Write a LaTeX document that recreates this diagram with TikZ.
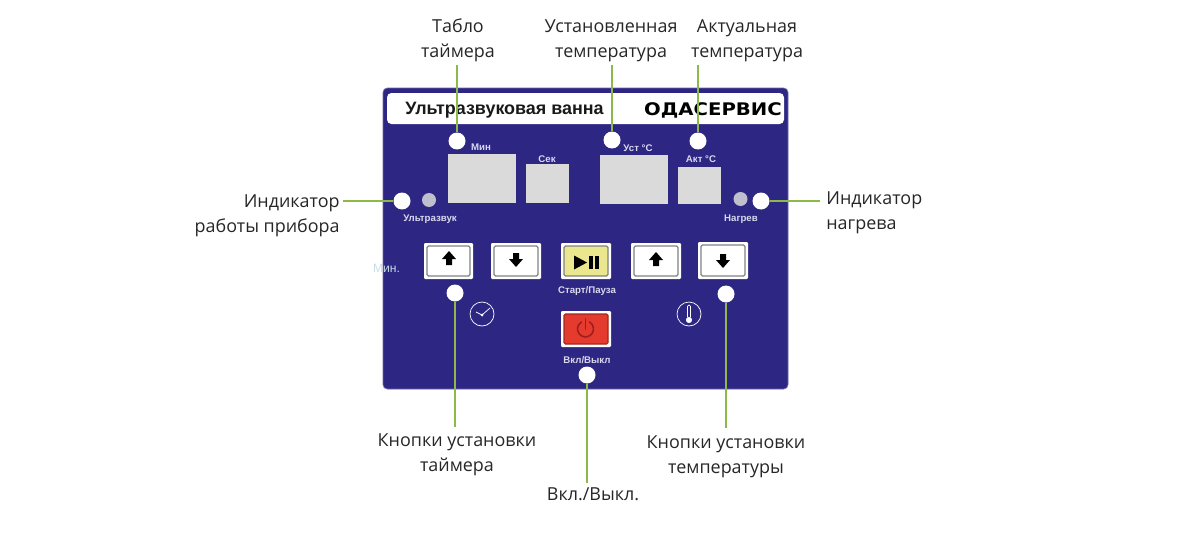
\documentclass[tikz,border=0pt]{standalone}
\usepackage{fontspec}
\setmainfont{Open Sans}
\newfontfamily\panelfont{Liberation Sans}
\newfontfamily\logofont{DejaVu Sans}

\definecolor{panelblue}{HTML}{2E2683}
\definecolor{leadgreen}{HTML}{8DB94A}
\definecolor{screengray}{HTML}{DADADA}
\definecolor{keygray}{HTML}{7F8284}
\definecolor{keyyellow}{HTML}{EBE78F}
\definecolor{keyred}{HTML}{E53A2E}
\definecolor{iconred}{HTML}{A01C1E}
\definecolor{smalltext}{HTML}{D9D8EE}
\definecolor{minblue}{HTML}{C9DCEA}

\tikzset{
	dot/.style={circle, fill=white, minimum size=0.34cm, inner sep=0pt},
	led/.style={circle, fill=screengray!85!panelblue, minimum size=0.28cm, inner sep=0pt},
	lead/.style={draw=leadgreen, line width=0.6pt},
	caption/.style={font=\fontsize{10.2}{14}\selectfont, text=black!85, inner sep=0pt},
	small/.style={font=\panelfont\bfseries\fontsize{5.5}{6}\selectfont, text=smalltext, inner sep=0pt},
	outer/.style={fill=white, rounded corners=0.6pt},
	inner/.style={draw=keygray, line width=0.7pt, rounded corners=0.8pt},
}

\begin{document}
\begin{tikzpicture}[x=0.02cm, y=-0.02cm]
	\useasboundingbox (0,0) rectangle (1200,534);

	\draw[fill=panelblue, draw=panelblue!70!white, line width=0.4pt, rounded corners=2.5pt] (383,88) rectangle (788,389);
	\fill[white, rounded corners=2.5pt] (387,93) rectangle (784,124);

	\node[font=\panelfont\bfseries\fontsize{10.2}{12}\selectfont, text=black!90, inner sep=0pt] (title) at (504.5,110) {Ультразвуковая ванна};
	\node[font=\logofont\bfseries\fontsize{9.4}{12}\selectfont, inner sep=0pt, text=black] (logo) at (713,110) {\scalebox{1.19}[1.05]{ОДАСЕРВИС}};

	\fill[screengray] (448,154) rectangle (516,203);
	\fill[screengray] (526,164) rectangle (569,203);
	\fill[screengray] (600,155) rectangle (668,204);
	\fill[screengray] (678,167) rectangle (721,204);

	\node[small] (minlabel) at (481,147) {Мин};
	\node[small] (seclabel) at (547,159) {Сек};
	\node[small] (setlabel) at (638,148) {Уст °С};
	\node[small] (actlabel) at (701,159) {Акт °С};
	\node[small] (usonic) at (430,219) {Ультразвук};
	\node[small] (heat) at (741,219) {Нагрев};
	\node[small] (startlabel) at (587,291) {Старт/Пауза};
	\node[small] (powerlabel) at (587,360) {Вкл/Выкл};
	\node[font=\panelfont\fontsize{6.9}{8}\selectfont, text=minblue, inner sep=0pt] (minkeys) at (386.5,268) {Мин.};

	\fill[outer] (424,243) rectangle (473,279);
	\fill[outer] (491,243) rectangle (541,279);
	\fill[outer] (561,243) rectangle (611,279);
	\fill[outer] (631,243) rectangle (681,279);
	\fill[outer] (698,242) rectangle (748,279);
	\fill[outer] (561,311) rectangle (611,347);
	\draw[inner] (427,246) rectangle (470,276);
	\draw[inner] (494,246) rectangle (538,276);
	\draw[inner, fill=keyyellow] (564,246) rectangle (608,276);
	\draw[inner] (634,246) rectangle (678,276);
	\draw[inner] (701,245) rectangle (745,276);
	\draw[inner, draw=keyred!70!black, fill=keyred] (564,314) rectangle (608,344);

	\fill[black] (449,251) -- (456,259) -- (452,259) -- (452,265) -- (446,265) -- (446,259) -- (442,259) -- cycle;
	\fill[black] (516,267) -- (509,259) -- (513,259) -- (513,253) -- (519,253) -- (519,259) -- (523,259) -- cycle;
	\fill[black] (656,252) -- (663,260) -- (659,260) -- (659,266) -- (653,266) -- (653,260) -- (649,260) -- cycle;
	\fill[black] (723,268) -- (716,260) -- (720,260) -- (720,254) -- (726,254) -- (726,260) -- (730,260) -- cycle;
	\fill[black] (574,255.5) -- (587,262.5) -- (574,269.5) -- cycle;
	\fill[black] (589,256) rectangle (592.5,269);
	\fill[black] (595,256) rectangle (598.5,269);

	\draw[iconred, line width=0.9pt, line cap=round] (589.5,322) arc (60:-240:0.16cm);
	\draw[iconred, line width=0.9pt, line cap=round] (585.5,319) -- (585.5,329);

	\draw[white, line width=0.4pt] (482,314) circle (0.24cm);
	\draw[white, line width=0.4pt] (476,312) -- (482,315) -- (490,308);
	\fill[white] (482,315) circle (0.03cm);
	\draw[white, line width=0.4pt] (689,314) circle (0.24cm);
	\draw[white, line width=0.4pt, rounded corners=0.8pt] (687.5,317) -- (687.5,305) -- (690.5,305) -- (690.5,317);
	\draw[white, fill=white, line width=0.3pt] (689,320) circle (0.055cm);

	\node[dot] (timerdot) at (457,141) {};
	\node[dot] (setdot) at (612,140) {};
	\node[dot] (actdot) at (698,141) {};
	\node[dot] (workdot) at (402,201) {};
	\node[led] (workled) at (429,200) {};
	\node[led] (heatled) at (740.5,199) {};
	\node[dot] (heatdot) at (761,201) {};
	\node[dot] (timekeys) at (455,293) {};
	\node[dot] (tempkeys) at (726,294) {};
	\node[dot] (powerdot) at (587,375) {};

	\node[caption, align=center] (timercap) at (458,40.5) {Табло\\таймера};
	\node[caption, align=center] (setcap) at (611,40.5) {Установленная\\температура};
	\node[caption, align=center] (actcap) at (747,40.5) {Актуальная\\температура};
	\node[caption, align=right, anchor=east] (workcap) at (340,216) {Индикатор\\работы прибора};
	\node[caption, align=left, anchor=west] (heatcap) at (826,213) {Индикатор\\нагрева};
	\node[caption, align=center] (timekeycap) at (457,455) {Кнопки установки\\таймера};
	\node[caption, align=center] (tempkeycap) at (726,457) {Кнопки установки\\температуры};
	\node[caption] (powercap) at (593,494) {Вкл./Выкл.};

	\coordinate (timerend) at (457,65);
	\coordinate (setend) at (612,65);
	\coordinate (actend) at (698,65);
	\coordinate (workend) at (343,201);
	\coordinate (heatend) at (820,201);
	\coordinate (timekeyend) at (455,427);
	\coordinate (tempkeyend) at (726,428);
	\coordinate (powerend) at (587,483);

	\draw[lead] (timerdot) -- (timerend);
	\draw[lead] (setdot) -- (setend);
	\draw[lead] (actdot) -- (actend);
	\draw[lead] (workdot) -- (workend);
	\draw[lead] (heatdot) -- (heatend);
	\draw[lead] (timekeys) -- (timekeyend);
	\draw[lead] (tempkeys) -- (tempkeyend);
	\draw[lead] (powerdot) -- (powerend);
\end{tikzpicture}
\end{document}
